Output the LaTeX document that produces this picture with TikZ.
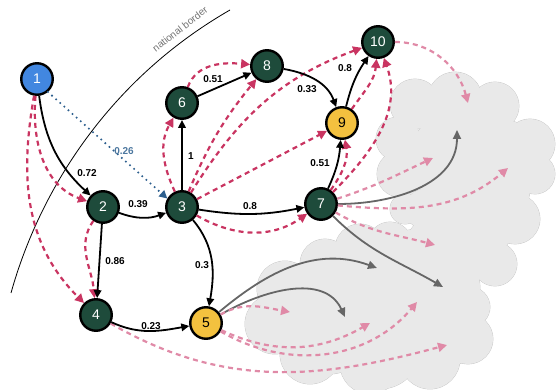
\documentclass[tikz,border=0pt]{standalone}
\usepackage{fontspec}
\setmainfont{Liberation Sans}
\usetikzlibrary{arrows.meta}

\definecolor{stationgreen}{HTML}{1E4B3B}
\definecolor{hubyellow}{HTML}{F3C13F}
\definecolor{startblue}{HTML}{4287E0}
\definecolor{dotblue}{HTML}{2D5F8E}
\definecolor{linkred}{HTML}{C93461}
\definecolor{leakpink}{HTML}{E08AA7}
\definecolor{leakgray}{HTML}{666666}
\definecolor{cloudfill}{HTML}{E9E9E9}
\definecolor{cloudedge}{HTML}{C6C6C6}

\tikzset{
	station/.style={circle, draw=black, line width=2.4pt, minimum size=31.5pt, inner sep=0pt, fill=stationgreen, text=white, font=\fontsize{14}{14}\selectfont},
	hub/.style={station, fill=hubyellow, text=black},
	startnode/.style={station, fill=startblue},
	flow/.style={-{Triangle[length=8pt,width=7.5pt]}, line width=1.8pt, draw=black},
	flowlabel/.style={font=\bfseries\fontsize{10}{10}\selectfont, inner sep=1pt},
	relink/.style={-{Triangle[length=9pt,width=9pt]}, line width=2.2pt, dash pattern=on 5pt off 4pt, draw=linkred},
	leak/.style={relink, draw=leakpink},
	leakflow/.style={-{Triangle[length=9pt,width=8pt]}, line width=1.8pt, draw=leakgray},
	dotlink/.style={-{Triangle[length=8pt,width=8pt]}, line width=2.3pt, line cap=round, dash pattern=on 0pt off 5.5pt, draw=dotblue},
}

\begin{document}
\begin{tikzpicture}[x=1pt, y=1pt]
	\useasboundingbox (0,0) rectangle (558,389);

	% cloud outside the network
	\def\cloudparts{400/215/23, 398/250/22, 415/285/25, 455/290/27, 495/283/24, 530/245/25, 535/215/20, 515/170/25, 495/125/22, 470/82/20, 468/50/25, 430/30/30, 370/25/30, 310/35/30, 275/65/30, 285/100/28, 325/125/25, 360/140/25, 390/145/22, 405/180/15, 425/180/20, 460/230/50, 470/170/45, 420/100/60, 350/70/50, 330/50/35, 380/40/40, 440/60/40, 440/140/35, 500/230/40, 500/200/30}
	\foreach \cx/\cy/\r in \cloudparts
		\draw[cloudedge, line width=0.8pt] (\cx,\cy) circle[radius=\r];
	\foreach \cx/\cy/\r in \cloudparts
		\fill[cloudfill] (\cx,\cy) circle[radius=\r];

	% national border
	\draw[black, line width=0.8pt] (11,96) .. controls (40,200) and (110,310) .. (230,379);
	\node[text=black!55, rotate=38, font=\fontsize{10}{10}\selectfont] (borderlabel) at (180,360) {national border};

	% stations
	\node[startnode] (n1) at (37,310) {1};
	\node[station] (n2) at (103,182) {2};
	\node[station] (n3) at (182,182) {3};
	\node[station] (n4) at (96,74) {4};
	\node[hub] (n5) at (206,66) {5};
	\node[station] (n6) at (182,286) {6};
	\node[station] (n7) at (321,185) {7};
	\node[station] (n8) at (267,323) {8};
	\node[hub] (n9) at (342,266) {9};
	\node[station] (n10) at (378,347) {10};

	% free ends in the cloud
	\coordinate (g1) at (457,259);
	\coordinate (g2) at (443,102);
	\coordinate (g3) at (377,121);
	\coordinate (g4) at (345,72);
	\coordinate (p1) at (468,286);
	\coordinate (p2) at (433,231);
	\coordinate (p3) at (508,221);
	\coordinate (p4) at (435,144);
	\coordinate (p5) at (290,77);
	\coordinate (p6) at (370,66);
	\coordinate (p7) at (417,87);
	\coordinate (p8) at (447,44);

	% flows leaving the network
	\draw[leakflow] (n7) to[out=0, in=-90] (g1);
	\draw[leakflow] (n7) to[out=-45, in=150] (g2);
	\draw[leakflow] (n5) to[out=40, in=160] (g3);
	\draw[leakflow] (n5) to[out=30, in=115] (g4);
	\draw[leak] (n10) to[out=0, in=105] (p1);
	\draw[leak] (n7) to[out=18, in=-155] (p2);
	\draw[leak] (n7) to[out=-5, in=-140] (p3);
	\draw[leak] (n7) to[out=-30, in=165] (p4);
	\draw[leak] (n5) to[out=30, in=170] (p5);
	\draw[leak] (n5) to[out=-25, in=-150] (p6);
	\draw[leak] (n5) to[out=-30, in=-130] (p7);
	\draw[leak] (n4) to[out=-30, in=-165] (p8);

	% rerouted links
	\draw[relink] (n1) to[out=-95, in=160] (n2);
	\draw[relink] (n1) to[out=-100, in=135] (n4);
	\draw[relink] (n2) to[out=-125, in=95] (n4);
	\draw[relink] (n3) to[out=115, in=-120] (n6);
	\draw[relink] (n6) to[out=70, in=175] (n8);
	\draw[relink] (n3) to[bend left=8] (n8);
	\draw[relink] (n3) to[out=58, in=200] (n10);
	\draw[relink] (n3) -- (n9);
	\draw[relink] (n3) to[out=-30, in=-145] (n7);
	\draw[relink] (n7) to[out=55, in=-80] (n9);
	\draw[relink] (n9) to[out=55, in=-95] (n10);
	\draw[relink] (n7) to[out=45, in=-70] (n10);

	% main links
	\draw[dotlink] (n1.-50) -- (n3.150);
	\draw[flow] (n1) to[bend right=20] (n2);
	\draw[flow] (n2) to[bend right=20] (n3);
	\draw[flow] (n2) -- (n4);
	\draw[flow] (n3) -- (n6);
	\draw[flow] (n6) -- (n8);
	\draw[flow] (n8) to[out=-10, in=110] (n9);
	\draw[flow] (n9) to[bend left=10] (n10);
	\draw[flow] (n7) to[bend right=10] (n9);
	\draw[flow] (n3) to[bend right=10] (n7);
	\draw[flow] (n3) to[out=-50, in=80] (n5);
	\draw[flow] (n4) to[out=-25, in=190] (n5);

	% weights
	\node[flowlabel] (w12) at (87,216) {0.72};
	\node[flowlabel, text=dotblue!85] (w13) at (124,238) {0.26};
	\node[flowlabel] (w23) at (138,185) {0.39};
	\node[flowlabel] (w24) at (115,128) {0.86};
	\node[flowlabel] (w35) at (202,124) {0.3};
	\node[flowlabel] (w45) at (151,63) {0.23};
	\node[flowlabel] (w36) at (191,233) {1};
	\node[flowlabel] (w37) at (250,183) {0.8};
	\node[flowlabel] (w79) at (320,226) {0.51};
	\node[flowlabel] (w68) at (213,310) {0.51};
	\node[flowlabel] (w89) at (307,300) {0.33};
	\node[flowlabel] (w910) at (345,321) {0.8};
\end{tikzpicture}
\end{document}
